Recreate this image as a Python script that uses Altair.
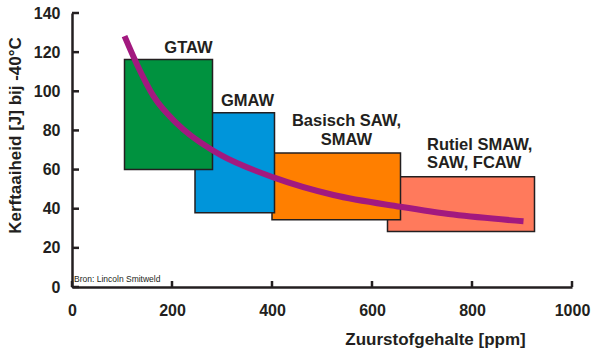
import altair as alt
import pandas as pd

# ---- data ----
methods = ["GTAW", "GMAW", "Basisch SAW, SMAW", "Rutiel SMAW, SAW, FCAW"]
o2_low = [105, 246, 400, 631]
o2_high = [281, 405, 657, 925]
tough_low = [60, 38, 34.4, 28.4]
tough_high = [116.3, 89, 68.5, 56.3]
box_colors = ["#00923F", "#0095DA", "#FF7F00", "#FF7A5C"]

curve_o2 = [105, 130, 163, 210, 277, 297, 403, 523, 657, 763, 903]
curve_tough = [128.2, 113.7, 97.5, 83.5, 70.5, 67.5, 56, 47, 41, 37, 33.6]

label_lines = ["GTAW", "GMAW", "Basisch SAW,", "SMAW", "Rutiel SMAW,", "SAW, FCAW"]
label_o2 = [233, 351, 549, 549, 710, 710]
label_tough = [119.8, 92.7, 82.1, 72.8, 70.2, 61]
label_align = ["center", "center", "center", "center", "left", "left"]

x_ticks = [0, 200, 400, 600, 800, 1000]
y_ticks = [0, 20, 40, 60, 80, 100, 120, 140]

source_note = "Bron: Lincoln Smitweld"
x_title = "Zuurstofgehalte [ppm]"
y_title = "Kerftaaiheid [J] bij -40°C"

FONT = "Liberation Sans"
INK = "#231F20"
W, H = 500, 274

boxes = pd.DataFrame({
    "method": methods, "x1": o2_low, "x2": o2_high,
    "y1": tough_low, "y2": tough_high,
}).iloc[::-1].reset_index(drop=True)
curve = pd.DataFrame({"x": curve_o2, "y": curve_tough})
labels = pd.DataFrame({"t": label_lines, "x": label_o2, "y": label_tough, "a": label_align})
xt = pd.DataFrame({"v": x_ticks})
yt = pd.DataFrame({"v": y_ticks})

xs = alt.Scale(domain=[0, 1000], nice=False, zero=False)
ys = alt.Scale(domain=[0, 140], nice=False, zero=False)

x_axis = alt.Axis(values=x_ticks, format="d", ticks=False, tickSize=0, grid=False,
                  domainWidth=2.5, domainColor=INK, labelPadding=15, labelOverlap=False,
                  labelFont=FONT, labelFontSize=16, labelFontWeight="bold", labelColor=INK,
                  title=x_title, titleFont=FONT, titleFontSize=17, titleFontWeight="bold",
                  titleColor=INK, titleX=363, titleY=57, titleAlign="center",
                  titleBaseline="alphabetic", labelFlush=False, zindex=1)
y_axis = alt.Axis(values=y_ticks, format="d", ticks=False, tickSize=0, grid=False,
                  domainWidth=2.5, domainColor=INK, labelPadding=12, labelOverlap=False,
                  labelFont=FONT, labelFontSize=16, labelFontWeight="bold", labelColor=INK,
                  title=y_title, titleFont=FONT, titleFontSize=17, titleFontWeight="bold",
                  titleColor=INK, titleX=-52, titleY=122, titleAlign="center",
                  titleBaseline="alphabetic", labelFlush=False, zindex=1)

X = lambda f: alt.X(f, scale=xs, axis=x_axis)
Y = lambda f: alt.Y(f, scale=ys, axis=y_axis)

rects = alt.Chart(boxes).mark_rect(stroke=INK, strokeWidth=1.5).encode(
    x=X("x1:Q"), x2="x2:Q", y=Y("y1:Q"), y2="y2:Q",
    color=alt.Color("method:N", scale=alt.Scale(domain=methods, range=box_colors), legend=None),
)

line = alt.Chart(curve).mark_line(strokeWidth=6, color="#A2197F", interpolate="monotone",
                                  strokeCap="butt").encode(x=X("x:Q"), y=Y("y:Q"))

xtick = alt.Chart(xt).mark_rule(strokeWidth=2.5, color=INK).encode(
    x=X("v:Q"), y=alt.value(H), y2=alt.value(H - 6))
ytick = alt.Chart(yt).mark_rule(strokeWidth=2.5, color=INK).encode(
    y=Y("v:Q"), x=alt.value(0), x2=alt.value(7))

txt_c = alt.Chart(labels[labels.a == "center"]).mark_text(
    font=FONT, fontSize=16.5, fontWeight="bold", color=INK, align="center",
    baseline="alphabetic").encode(x=X("x:Q"), y=Y("y:Q"), text="t:N")
txt_l = alt.Chart(labels[labels.a == "left"]).mark_text(
    font=FONT, fontSize=16.5, fontWeight="bold", color=INK, align="left",
    baseline="alphabetic").encode(x=X("x:Q"), y=Y("y:Q"), text="t:N")

note = alt.Chart(pd.DataFrame({"t": [source_note]})).mark_text(
    font=FONT, fontSize=8.5, color=INK, align="left", baseline="alphabetic").encode(
    x=alt.value(2), y=alt.value(269), text="t:N")

chart = alt.layer(rects, line, xtick, ytick, txt_c, txt_l, note).properties(
    width=W, height=H,
    autosize=alt.AutoSizeParams(type="none"),
    padding={"left": 72, "top": 13, "right": 28, "bottom": 67},
    background="white",
).configure_view(stroke=None).configure_axis(domainColor=INK, domainWidth=2.5)

chart.save("out.html", embed_options={"renderer": "svg", "actions": False})
